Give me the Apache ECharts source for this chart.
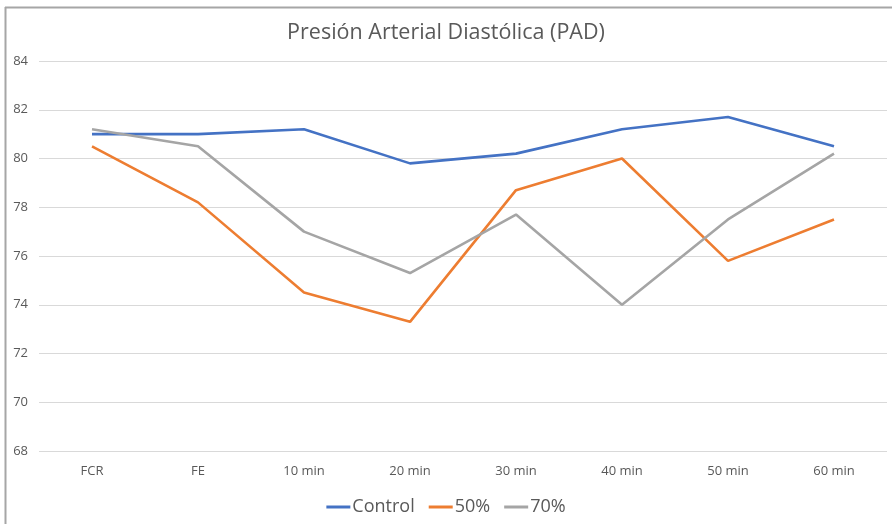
<!DOCTYPE html>
<html>
<head>
<meta charset="utf-8">
<script src="https://cdn.jsdelivr.net/npm/echarts@6/dist/echarts.min.js"></script>
<style>
html,body{margin:0;padding:0;background:#fff;}
#c{width:892px;height:524px;}
</style>
</head>
<body>
<div id="c"></div>
<script>
const categories = ['FCR', 'FE', '10 min', '20 min', '30 min', '40 min', '50 min', '60 min'];
const control = [81.0, 81.0, 81.2, 79.8, 80.2, 81.2, 81.7, 80.5];
const p50 = [80.5, 78.2, 74.5, 73.3, 78.7, 80.0, 75.8, 77.5];
const p70 = [81.2, 80.5, 77.0, 75.3, 77.7, 74.0, 77.5, 80.2];
const yTicks = [68, 70, 72, 74, 76, 78, 80, 82, 84];

const FONT = '"Open Sans", "Liberation Sans", sans-serif';
const chart = echarts.init(document.getElementById('c'), null, {renderer: 'canvas'});
const mk = (name, data, color) => ({
  name, type: 'line', data, symbol: 'none',
  lineStyle: {color, width: 2.6}, itemStyle: {color},
  emphasis: {disabled: true}
});
chart.setOption({
  animation: false,
  backgroundColor: '#fff',
  title: {
    text: 'Presión Arterial Diastólica (PAD)',
    left: 'center', top: 17,
    textStyle: {fontFamily: FONT, fontSize: 21.5, fontWeight: 'normal', color: '#595959'}
  },
  legend: {
    bottom: 3, left: 'center',
    itemWidth: 24, itemHeight: 3, itemGap: 14,
    icon: 'rect',
    textStyle: {fontFamily: FONT, fontSize: 18, color: '#595959', padding: [0, 0, 0, -3]},
    data: ['Control', '50%', '70%']
  },
  grid: {left: 39, right: 5, top: 61, bottom: 73, containLabel: false},
  xAxis: {
    type: 'category', data: categories, boundaryGap: true,
    axisLine: {show: false}, axisTick: {show: false},
    axisLabel: {fontFamily: FONT, fontSize: 13, color: '#595959', margin: 14}
  },
  yAxis: {
    type: 'value', min: yTicks[0], max: yTicks[yTicks.length - 1], interval: 2,
    axisLine: {show: false}, axisTick: {show: false},
    axisLabel: {fontFamily: FONT, fontSize: 13, color: '#595959', margin: 11},
    splitLine: {lineStyle: {color: '#d9d9d9', width: 1}}
  },
  graphic: [
    {type: 'line', shape: {x1: 5, y1: 7.5, x2: 892, y2: 7.5}, style: {stroke: '#a6a6a6', lineWidth: 2}},
    {type: 'line', shape: {x1: 5.5, y1: 7, x2: 5.5, y2: 524}, style: {stroke: '#a6a6a6', lineWidth: 2}}
  ],
  series: [
    mk('Control', control, '#4472C4'),
    mk('50%', p50, '#ED7D31'),
    mk('70%', p70, '#A5A5A5')
  ]
});
</script>
</body>
</html>
